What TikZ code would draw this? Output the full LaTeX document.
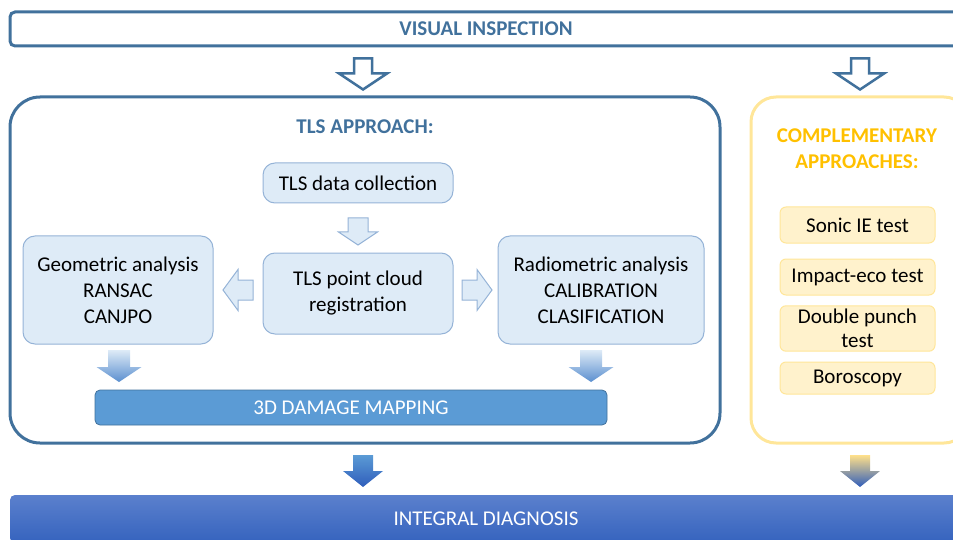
\documentclass[tikz,border=0pt]{standalone}
\usepackage{fontspec}
\setmainfont{Carlito}
\usetikzlibrary{calc}

\definecolor{frameblue}{HTML}{41719C}
\definecolor{boxfill}{HTML}{DEEBF7}
\definecolor{boxline}{HTML}{95B3D7}
\definecolor{mapblue}{HTML}{5B9BD5}
\definecolor{arrowlow}{HTML}{5B8FCF}
\definecolor{diagtop}{HTML}{5B80CD}
\definecolor{diagbot}{HTML}{3563BE}
\definecolor{deepblue}{HTML}{2F5DBB}
\definecolor{compline}{HTML}{FFE699}
\definecolor{compfill}{HTML}{FFF2CC}
\definecolor{comptext}{HTML}{FFC000}
\definecolor{compdown}{HTML}{FFE08A}

\newcommand{\boxfont}{\fontsize{21}{26}\selectfont}
\newcommand{\headfont}{\fontsize{21}{26}\selectfont\bfseries}

% block arrow: [style]{start}{tip}{shaft half width}{head half width}{head length}
\newcommand{\blockarrow}[6][]{%
  \coordinate (bah) at ($(#3)!#6!(#2)$);
  \path[#1] ($(#2)!#4!90:(#3)$) -- ($(bah)!#4!90:(#3)$) -- ($(bah)!#5!90:(#3)$)
    -- (#3) -- ($(bah)!#5!-90:(#3)$) -- ($(bah)!#4!-90:(#3)$) -- ($(#2)!#4!-90:(#3)$) -- cycle;
}

\begin{document}
\begin{tikzpicture}[x=1pt,y=-1pt,
    frame/.style={draw=frameblue,line width=3pt},
    tlsbox/.style={draw=boxline,fill=boxfill,line width=1pt,rounded corners=12pt,align=center,font=\boxfont},
    compbox/.style={draw=compline,fill=compfill,line width=1pt,rounded corners=6pt,align=center,font=\boxfont},
    hollow/.style={draw=frameblue,fill=white,line width=2.5pt,line join=miter},
    paleblock/.style={draw=boxline,fill=boxfill,line width=1pt,line join=miter}]
    \useasboundingbox (0,0) rectangle (953,540);
    \clip (0,0) rectangle (953,540);
    % Visual inspection band
    \node[frame,rounded corners=5pt,minimum width=952pt,minimum height=34pt,font=\headfont,text=frameblue] (vis) at (486,29) {VISUAL INSPECTION};
    % TLS approach frame
    \node[frame,rounded corners=30pt,minimum width=710pt,minimum height=346pt] (tls) at (365,270) {};
    \node[font=\headfont,text=frameblue] (tlstitle) at (365,127) {TLS APPROACH:};
    \node[tlsbox,minimum width=190pt,minimum height=40pt] (collect) at (358,183) {TLS data collection};
    \node[tlsbox,minimum width=190pt,minimum height=81pt] (reg) at (358,293.5) {TLS point cloud\\registration};
    \node[tlsbox,minimum width=190pt,minimum height=108pt] (geo) at (118,290) {Geometric analysis\\RANSAC\\CANJPO};
    \node[tlsbox,minimum width=206pt,minimum height=108pt] (radio) at (601,290) {Radiometric analysis\\CALIBRATION\\CLASIFICATION};
    \node[draw=frameblue,fill=mapblue,line width=0.8pt,rounded corners=5pt,minimum width=512pt,minimum height=35pt,font=\boxfont,text=white] (map) at (351,407.5) {3D DAMAGE MAPPING};
    % Complementary approaches frame
    \node[draw=compline,line width=3pt,rounded corners=25pt,minimum width=218pt,minimum height=346pt] (comp) at (860,270) {};
    \node[font=\headfont,text=comptext,align=center] (comptitle) at (857,149) {COMPLEMENTARY\\APPROACHES:};
    \foreach \name/\y/\h/\txt in {sonic/225/36/{Sonic IE test},impact/277/36/{Impact-eco test},punch/328.5/37/{Double punch\\[-2pt]test},boro/378/32/{Boroscopy}}
    \node[compbox,minimum width=155pt,minimum height=\h pt] (\name) at (857.5,\y) {\txt};
    % Integral diagnosis band
    \node[top color=diagtop,bottom color=diagbot,rounded corners=5pt,minimum width=952pt,minimum height=48pt,font=\boxfont,text=white] (diag) at (486,519) {INTEGRAL DIAGNOSIS};
    % Hollow arrows below the band
    \coordinate (t1s) at ($(tls.north)+(-2,-37)$);
    \coordinate (t1e) at ($(tls.north)+(-2,-6)$);
    \blockarrow[hollow]{t1s}{t1e}{9pt}{24pt}{16pt}
    \coordinate (t2s) at ($(comp.north)+(0,-37)$);
    \coordinate (t2e) at ($(comp.north)+(0,-6)$);
    \blockarrow[hollow]{t2s}{t2e}{9pt}{24pt}{16pt}
    % Arrows inside the TLS frame
    \coordinate (c1s) at ($(collect.south)+(0,14.5)$);
    \coordinate (c1e) at ($(collect.south)+(0,41.5)$);
    \blockarrow[paleblock]{c1s}{c1e}{10pt}{19.5pt}{13pt}
    \coordinate (g1s) at ($(geo.east)+(39.5,0)$);
    \coordinate (g1e) at ($(geo.east)+(9.5,0)$);
    \blockarrow[paleblock]{g1s}{g1e}{10pt}{20.5pt}{15pt}
    \coordinate (r1s) at ($(radio.west)+(-35.5,0)$);
    \coordinate (r1e) at ($(radio.west)+(-5.5,0)$);
    \blockarrow[paleblock]{r1s}{r1e}{10pt}{20.5pt}{15pt}
    \coordinate (g2s) at ($(geo.south)+(1,5.5)$);
    \coordinate (g2e) at ($(geo.south)+(1,37.5)$);
    \blockarrow[top color=boxfill,bottom color=arrowlow]{g2s}{g2e}{11pt}{22.5pt}{15pt}
    \coordinate (r2s) at ($(radio.south)+(-10,5.5)$);
    \coordinate (r2e) at ($(radio.south)+(-10,37.5)$);
    \blockarrow[top color=boxfill,bottom color=arrowlow]{r2s}{r2e}{11pt}{22.5pt}{15pt}
    % Arrows down to the diagnosis
    \coordinate (d1s) at ($(tls.south)+(-2,10.5)$);
    \coordinate (d1e) at ($(tls.south)+(-2,42.5)$);
    \blockarrow[top color=mapblue,bottom color=deepblue]{d1s}{d1e}{10pt}{20pt}{16pt}
    \coordinate (d2s) at ($(comp.south)+(0,10.5)$);
    \coordinate (d2e) at ($(comp.south)+(0,42.5)$);
    \blockarrow[top color=compdown,bottom color=deepblue]{d2s}{d2e}{10pt}{20pt}{16pt}
\end{tikzpicture}
\end{document}
